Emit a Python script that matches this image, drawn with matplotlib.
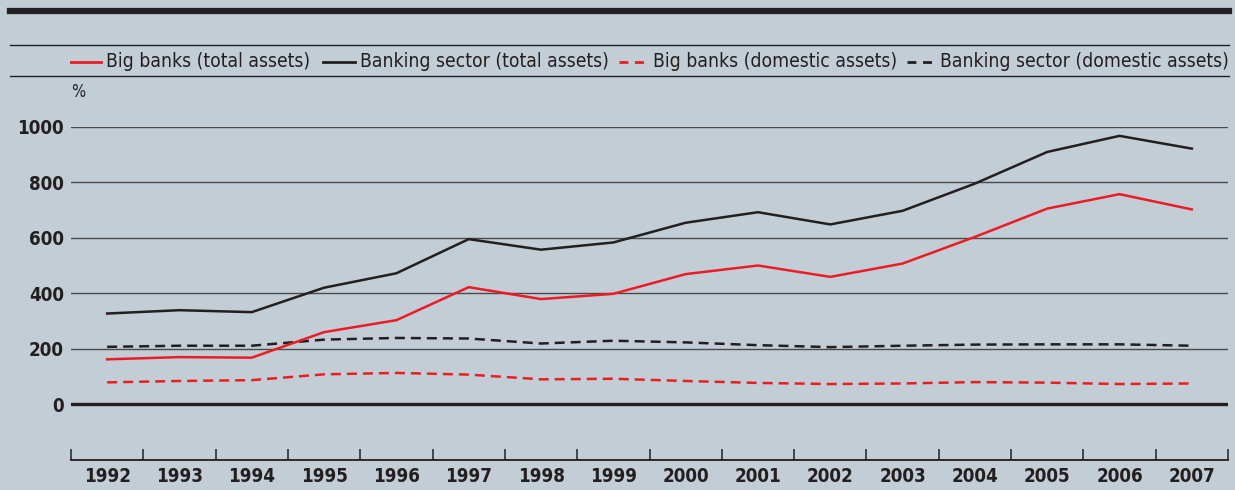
import matplotlib
matplotlib.use("Agg")
import matplotlib.pyplot as plt
from matplotlib.lines import Line2D

# Bank assets as % of GDP, 1992-2007
years = list(range(1992, 2008))
big_total = [162, 170, 168, 260, 303, 422, 379, 398, 469, 500, 459, 507, 603, 705, 757, 702]
sector_total = [327, 339, 332, 420, 472, 595, 557, 583, 654, 692, 648, 697, 795, 909, 967, 921]
big_domestic = [79, 84, 87, 108, 113, 107, 90, 92, 84, 77, 73, 75, 80, 78, 73, 75]
sector_domestic = [207, 211, 211, 233, 239, 237, 219, 229, 223, 213, 206, 211, 215, 216, 216, 211]
series_names = ["Big banks (total assets)", "Banking sector (total assets)",
                "Big banks (domestic assets)", "Banking sector (domestic assets)"]
yticks = [0, 200, 400, 600, 800, 1000]

BG = "#c2cdd6"
RED = "#ed1c24"
DARK = "#231f20"
W, H = 1235, 490

plt.rcParams["font.family"] = ["DejaVu Sans"]
plt.rcParams["font.stretch"] = "condensed"

fig = plt.figure(figsize=(W / 100, H / 100), dpi=100, facecolor=BG)

def fx(px):
    return px / W

def fy(py):
    return 1 - py / H

# axes: x from 71 to 1228 px, bottom axis line at y=460, value 1000 at y=126.7, 0 at 404.3
y_top_px, y_zero_px, y_bot_px = 126.7, 404.3, 460
ppu = (y_zero_px - y_top_px) / 1000
ymin = -(y_bot_px - y_zero_px) / ppu
ax = fig.add_axes([fx(71), fy(y_bot_px), fx(1228 - 71), (y_bot_px - y_top_px) / H])
ax.set_facecolor(BG)
ax.set_xlim(1991.5, 2007.5)
ax.set_ylim(ymin, 1000)

for v in yticks[1:]:
    ax.axhline(v, color="#4a4a4a", lw=1.0, zorder=1)
ax.axhline(0, color=DARK, lw=2.4, zorder=1)

lw = 1.8
ax.plot(years, sector_domestic, color=DARK, lw=lw, dashes=(4, 2.4), zorder=3)
ax.plot(years, big_domestic, color=RED, lw=lw, dashes=(4, 2.4), zorder=3)
ax.plot(years, sector_total, color=DARK, lw=lw, zorder=4)
ax.plot(years, big_total, color=RED, lw=lw, zorder=4)

for s in ["top", "left", "right"]:
    ax.spines[s].set_visible(False)
ax.spines["bottom"].set_color(DARK)
ax.spines["bottom"].set_linewidth(1.3)

ax.set_yticks(yticks)
ax.set_yticklabels([str(v) for v in yticks], fontweight="bold", fontsize=13.5, color=DARK)
ax.tick_params(axis="y", length=0, pad=5)

ax.set_xticks(years)
ax.set_xticklabels([str(y) for y in years], fontweight="bold", fontsize=13.5, color=DARK)
ax.set_xticks([y - 0.5 for y in years] + [years[-1] + 0.5], minor=True)
ax.tick_params(axis="x", which="major", length=0, pad=5)
ax.tick_params(axis="x", which="minor", direction="in", length=8, width=1.1, color=DARK)

# header rules
fig.add_artist(Line2D([fx(10), fx(1229)], [fy(11), fy(11)], color=DARK, lw=4.5))
fig.add_artist(Line2D([fx(10), fx(1229)], [fy(45), fy(45)], color=DARK, lw=1.0))
fig.add_artist(Line2D([fx(10), fx(1229)], [fy(76.5), fy(76.5)], color=DARK, lw=1.0))

# legend row
leg_y = 61.5
entries = [
    (71, 101, RED, None, series_names[0]),
    (323, 355, DARK, None, series_names[1]),
    (619, 648, RED, (3.2, 2.4), series_names[2]),
    (907, 935, DARK, (3.2, 2.4), series_names[3]),
]
for x0, x1, col, dash, label in entries:
    ln = Line2D([fx(x0), fx(x1)], [fy(leg_y), fy(leg_y)], color=col, lw=2.0)
    if dash:
        ln.set_dashes(dash)
    fig.add_artist(ln)
    fig.text(fx(x1 + 5), fy(leg_y), label, fontsize=13.9, color=DARK, va="center", ha="left")

fig.text(fx(71), fy(92), "%", fontsize=12, color=DARK, va="center", ha="left")

fig.savefig("out.png", dpi=100, facecolor=BG)
